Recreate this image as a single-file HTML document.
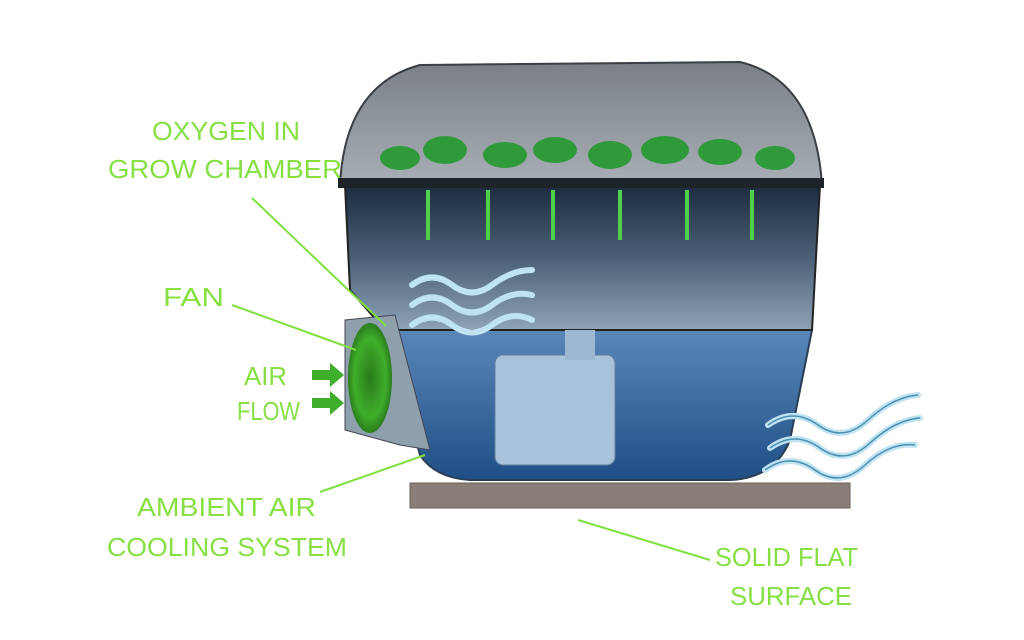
<!DOCTYPE html>
<html><head><meta charset="utf-8"><style>
html,body{margin:0;padding:0;background:#fff;width:1024px;height:640px;overflow:hidden}
svg text{font-family:"Liberation Sans",sans-serif;font-size:26px;fill:#86e043;}
</style></head><body>
<svg width="1024" height="640" viewBox="0 0 1024 640" xmlns="http://www.w3.org/2000/svg">
<defs>
<linearGradient id="dome" x1="0" y1="0" x2="0" y2="1">
<stop offset="0" stop-color="#7a7f86"/><stop offset="1" stop-color="#a9afb6"/></linearGradient>
<linearGradient id="mid" x1="0" y1="0" x2="0" y2="1">
<stop offset="0" stop-color="#1c2c40"/><stop offset="0.5" stop-color="#4a6076"/><stop offset="1" stop-color="#8da3b6"/></linearGradient>
<linearGradient id="res" x1="0" y1="0" x2="0" y2="1">
<stop offset="0" stop-color="#5a87b8"/><stop offset="1" stop-color="#1f4f86"/></linearGradient>
<radialGradient id="fan" cx="0.5" cy="0.5" r="0.6">
<stop offset="0" stop-color="#2a7a1a"/><stop offset="0.6" stop-color="#3fae2a"/><stop offset="1" stop-color="#1d5a14"/></radialGradient>
</defs>
<rect x="410" y="483" width="440" height="25" fill="#8a7f78" stroke="#6b625c"/>
<path d="M385 330 L812 330 L790 440 Q775 478 730 480 L470 480 Q435 478 420 455 Z" fill="url(#res)" stroke="#2b3e55" stroke-width="2"/>
<path d="M345 185 L820 185 L812 330 L385 330 L350 290 Z" fill="url(#mid)" stroke="#222" stroke-width="2"/>
<rect x="495" y="355" width="120" height="110" rx="8" fill="#a9c2dc" stroke="#5f7f9f"/>
<rect x="565" y="330" width="30" height="30" fill="#9fb8d2"/>
<path d="M340 185 Q345 85 420 65 L740 62 Q815 80 822 185 Z" fill="url(#dome)" stroke="#3b3f45" stroke-width="2"/>
<rect x="338" y="178" width="486" height="10" fill="#1e2328"/>
<g fill="#2f9a3a">
<ellipse cx="400" cy="158" rx="20" ry="12"/><ellipse cx="445" cy="150" rx="22" ry="14"/>
<ellipse cx="505" cy="155" rx="22" ry="13"/><ellipse cx="555" cy="150" rx="22" ry="13"/>
<ellipse cx="610" cy="155" rx="22" ry="14"/><ellipse cx="665" cy="150" rx="24" ry="14"/>
<ellipse cx="720" cy="152" rx="22" ry="13"/><ellipse cx="775" cy="158" rx="20" ry="12"/>
</g>
<g stroke="#4ed04a" stroke-width="4">
<line x1="428" y1="190" x2="428" y2="240"/><line x1="488" y1="190" x2="488" y2="240"/>
<line x1="553" y1="190" x2="553" y2="240"/><line x1="620" y1="190" x2="620" y2="240"/>
<line x1="687" y1="190" x2="687" y2="240"/><line x1="752" y1="190" x2="752" y2="240"/>
</g>
<path d="M345 320 L395 315 L430 450 L400 445 L345 430 Z" fill="#8fa0ad" stroke="#445"/>
<ellipse cx="370" cy="378" rx="22" ry="55" fill="url(#fan)"/>
<g fill="none" stroke="#bfe3f2" stroke-width="6" stroke-linecap="round">
<path d="M412 285 q20 -15 40 0 t40 0 t40 -15"/>
<path d="M412 305 q20 -15 40 0 t40 0 t40 -10"/>
<path d="M412 325 q20 -15 40 0 t40 0 t40 -5"/>
<path d="M768 425 q25 -18 50 0 t50 -5 t50 -25"/>
<path d="M770 448 q25 -18 50 0 t50 -5 t50 -25"/>
<path d="M765 470 q25 -18 50 0 t50 -5 t50 -20"/>
</g>
<g fill="none" stroke="#4a8fb0" stroke-width="1.5">
<path d="M768 425 q25 -18 50 0 t50 -5 t50 -25"/>
<path d="M770 448 q25 -18 50 0 t50 -5 t50 -25"/>
<path d="M765 470 q25 -18 50 0 t50 -5 t50 -20"/>
</g>
<g stroke="#7fe040" stroke-width="2">
<line x1="252" y1="198" x2="386" y2="326"/>
<line x1="232" y1="305" x2="356" y2="350"/>
<line x1="320" y1="492" x2="425" y2="455"/>
<line x1="578" y1="520" x2="710" y2="560"/>
</g>
<g fill="#3fae2a">
<path d="M312 370 h18 v-7 l14 12 l-14 12 v-7 h-18 z"/>
<path d="M312 398 h18 v-7 l14 12 l-14 12 v-7 h-18 z"/>
</g>
<text x="152" y="140" textLength="148" lengthAdjust="spacingAndGlyphs">OXYGEN IN</text>
<text x="108" y="178" textLength="234" lengthAdjust="spacingAndGlyphs">GROW CHAMBER</text>
<text x="163" y="306" textLength="61" lengthAdjust="spacingAndGlyphs">FAN</text>
<text x="244" y="385" textLength="43" lengthAdjust="spacingAndGlyphs">AIR</text>
<text x="237" y="420" textLength="63" lengthAdjust="spacingAndGlyphs">FLOW</text>
<text x="137" y="516" textLength="179" lengthAdjust="spacingAndGlyphs">AMBIENT AIR</text>
<text x="107" y="556" textLength="240" lengthAdjust="spacingAndGlyphs">COOLING SYSTEM</text>
<text x="715" y="566" textLength="143" lengthAdjust="spacingAndGlyphs">SOLID FLAT</text>
<text x="730" y="605" textLength="122" lengthAdjust="spacingAndGlyphs">SURFACE</text>
</svg>
</body></html>
